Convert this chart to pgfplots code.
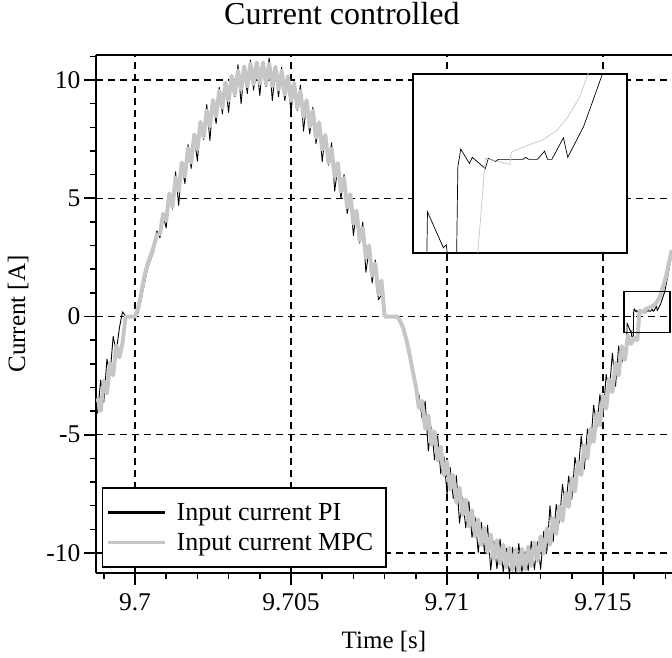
\documentclass[border=0pt]{standalone}
\usepackage{fontspec}
\setmainfont{Liberation Serif}
\usepackage{pgfplots}
\usepackage{pgfplotstable}
\pgfplotsset{compat=1.18}
\definecolor{mpcgray}{RGB}{198,198,198}

% time in ms relative to 9.7 s
\pgfplotstableread{
x y
-1.2 -4.10
-1.1 -2.69
-1.0 -3.62
-0.9 -1.80
-0.8 -2.47
-0.7 -0.84
-0.6 -1.50
-0.5 -0.48
-0.4 0.2
-0.3 0
-0.2 0
-0.1 0
0.0 0
0.1 0.15
0.2 0.7
0.3 1.4
0.4 2.0
0.5 2.4
0.6 2.75
0.7 3.62
0.8 3.33
0.9 4.29
1.0 3.74
1.1 5.25
1.2 4.54
1.3 6.12
1.4 4.70
1.5 6.36
1.6 5.62
1.7 7.27
1.8 6.26
1.9 7.60
2.0 6.57
2.1 8.28
2.2 7.48
2.3 8.96
2.4 7.44
2.5 9.00
2.6 8.16
2.7 9.69
2.8 8.57
2.9 9.78
3.0 8.63
3.1 10.22
3.2 9.29
3.3 10.65
3.4 8.99
3.5 10.42
3.6 9.43
3.7 10.84
3.8 9.57
3.9 10.64
4.0 9.35
4.1 10.79
4.2 9.72
4.3 10.93
4.4 9.13
4.5 10.41
4.6 9.29
4.7 10.54
4.8 9.13
4.9 10.06
5.0 8.62
5.1 9.92
5.2 8.71
5.3 9.78
5.4 7.84
5.5 8.99
5.6 7.72
5.7 8.85
5.8 7.31
5.9 8.11
6.0 6.55
6.1 7.73
6.2 6.40
6.3 7.35
6.4 5.30
6.5 6.34
6.6 4.98
6.7 6.00
6.8 4.36
6.9 5.07
7.0 3.42
7.1 4.52
7.2 3.11
7.3 3.99
7.4 1.87
7.5 2.85
7.6 1.42
7.7 2.39
7.8 0.71
7.9 0.9
8.0 0
8.1 0.05
8.2 0
8.3 0
8.4 0
8.5 -0.15
8.6 -0.45
8.7 -0.95
8.8 -1.55
8.9 -2.1
9.0 -3.2
9.1 -3.3
9.2 -4.3
9.3 -3.58
9.4 -5.68
9.5 -4.67
9.6 -6.06
9.7 -5.04
9.8 -6.66
9.9 -5.92
10.0 -7.52
10.1 -6.37
10.2 -7.70
10.3 -6.73
10.4 -8.74
10.5 -7.65
10.6 -8.94
10.7 -7.82
10.8 -9.34
10.9 -8.49
11.0 -9.98
11.1 -8.71
11.2 -9.93
11.3 -8.83
11.4 -10.72
11.5 -9.50
11.6 -10.66
11.7 -9.41
11.8 -10.80
11.9 -9.81
12.0 -10.9
12.1 -9.76
12.2 -10.84
12.3 -9.60
12.4 -10.8
12.5 -9.94
12.6 -10.75
12.7 -9.50
12.8 -10.70
12.9 -9.53
13.0 -10.69
13.1 -9.08
13.2 -9.95
13.3 -8.00
13.4 -9.53
13.5 -7.94
13.6 -8.73
13.7 -7.10
13.8 -8.10
13.9 -6.75
14.0 -7.73
14.1 -5.95
14.2 -6.65
14.3 -5.05
14.4 -6.45
14.5 -4.75
14.6 -5.45
14.7 -3.75
14.8 -4.70
14.9 -3.30
15.0 -4.25
15.1 -2.45
15.2 -3.15
15.3 -1.55
15.4 -2.95
15.5 -1.25
15.6 -1.95
15.76 -1.2
15.77 -0.28
15.88 -0.63
15.90 -0.60
15.92 -0.85
15.97 -0.85
15.98 0.16
16.00 0.33
16.06 0.19
16.08 0.25
16.17 0.14
16.19 0.24
16.24 0.21
16.26 0.23
16.43 0.23
16.45 0.25
16.47 0.23
16.53 0.23
16.58 0.31
16.60 0.23
16.63 0.23
16.71 0.44
16.74 0.25
16.85 0.55
16.98 1.06
17.1 1.9
17.2 2.6
}\pidata

\pgfplotstableread{
x y
-1.2 -3.45
-1.1 -3.99
-1.0 -2.72
-0.9 -3.25
-0.8 -1.97
-0.7 -2.49
-0.6 -1.21
-0.5 -1.73
-0.4 -1.10
-0.3 0
-0.2 0
-0.1 0
0.0 0
0.1 0.35
0.2 1.0
0.3 1.7
0.4 2.2
0.5 2.57
0.6 2.95
0.7 3.47
0.8 3.48
0.9 4.34
1.0 4.05
1.1 5.20
1.2 4.64
1.3 5.87
1.4 5.30
1.5 6.51
1.6 5.92
1.7 7.12
1.8 6.51
1.9 7.70
2.0 7.07
2.1 8.23
2.2 7.58
2.3 8.71
2.4 8.04
2.5 9.15
2.6 8.46
2.7 9.54
2.8 8.82
2.9 9.88
3.0 9.13
3.1 10.17
3.2 9.39
3.3 10.40
3.4 9.59
3.5 10.57
3.6 9.73
3.7 10.69
3.8 9.82
3.9 10.74
4.0 9.85
4.1 10.74
4.2 9.82
4.3 10.68
4.4 9.73
4.5 10.56
4.6 9.59
4.7 10.39
4.8 9.38
4.9 10.16
5.0 9.12
5.1 9.87
5.2 8.81
5.3 9.53
5.4 8.44
5.5 9.14
5.6 8.02
5.7 8.70
5.8 7.56
5.9 8.21
6.0 7.05
6.1 7.68
6.2 6.50
6.3 7.10
6.4 5.90
6.5 6.49
6.6 5.28
6.7 5.85
6.8 4.61
6.9 5.17
7.0 3.92
7.1 4.47
7.2 3.21
7.3 3.74
7.4 2.47
7.5 3.00
7.6 1.72
7.7 2.24
7.8 0.96
7.9 1.52
8.0 0
8.1 0
8.2 0
8.3 0
8.4 0
8.5 -0.2
8.6 -0.5
8.7 -1.0
8.8 -1.6
8.9 -2.3
9.0 -2.94
9.1 -3.86
9.2 -3.57
9.3 -4.73
9.4 -4.18
9.5 -5.42
9.6 -4.86
9.7 -6.09
9.8 -5.51
9.9 -6.72
10.0 -6.12
10.1 -7.32
10.2 -6.70
10.3 -7.88
10.4 -7.24
10.5 -8.40
10.6 -7.74
10.7 -8.87
10.8 -8.19
10.9 -9.29
11.0 -8.58
11.1 -9.66
11.2 -8.93
11.3 -9.98
11.4 -9.22
11.5 -10.25
11.6 -9.46
11.7 -10.46
11.8 -9.65
11.9 -10.61
12.0 -9.77
12.1 -10.71
12.2 -9.84
12.3 -10.75
12.4 -9.83
12.5 -10.69
12.6 -9.73
12.7 -10.55
12.8 -9.55
12.9 -10.33
13.0 -9.29
13.1 -10.03
13.2 -8.95
13.3 -9.65
13.4 -8.53
13.5 -9.19
13.6 -8.03
13.7 -8.65
13.8 -7.45
13.9 -8.05
14.0 -6.83
14.1 -7.40
14.2 -6.15
14.3 -6.70
14.4 -5.45
14.5 -6.00
14.6 -4.75
14.7 -5.30
14.8 -4.05
14.9 -4.60
15.0 -3.35
15.1 -3.90
15.2 -2.65
15.3 -3.20
15.4 -1.95
15.5 -2.50
15.6 -1.25
15.7 -1.83
15.8 -0.80
15.9 -1.16
16.0 -0.9
16.1 -1.0
16.17 0.24
16.34 0.18
16.35 0.30
16.45 0.36
16.57 0.42
16.67 0.52
16.74 0.64
16.82 0.83
16.88 1.06
17.0 1.6
17.1 2.2
17.2 2.8
}\mpcdata

\begin{document}
\begin{tikzpicture}
\begin{axis}[
  name=main,
  scale only axis, width=576pt, height=518pt,
  xmin=-1.25, xmax=17.21, ymin=-10.845, ymax=11.057,
  axis x line*=bottom, axis y line*=left,
  axis line style={-, line width=1.5pt},
  xtick={0,5,10,15}, xticklabels={9.7,9.705,9.71,9.715},
  minor xtick={-1,1,2,3,4,6,7,8,9,11,12,13,14,16,17},
  ytick={-10,-5,0,5,10}, yticklabels={-10,-5,0,5,10},
  minor ytick={-9,-8,-7,-6,-4,-3,-2,-1,1,2,3,4,6,7,8,9,11},
  tick align=outside, major tick length=12pt, minor tick length=6pt,
  tick style={line width=1.5pt, black},
  grid=major,
  major grid style={black, line width=1.2pt, dash pattern=on 7pt off 5pt},
  ticklabel style={font=\fontsize{25.5}{30}\selectfont},
  xticklabel style={yshift=-5pt},
  title={Current controlled},
  title style={at={(axis description cs:0.427,1.0676)}, anchor=center, inner sep=0pt, font=\fontsize{32}{38}\selectfont},
  xlabel={Time [s]},
  xlabel style={at={(axis description cs:0.5,-0.1326)}, anchor=center, inner sep=0pt, font=\fontsize{25}{30}\selectfont},
  ylabel={Current [A]},
  ylabel style={at={(axis description cs:-0.1354,0.5)}, anchor=center, inner sep=0pt, font=\fontsize{25}{30}\selectfont},
  legend style={at={(0.0104,0.0097)}, anchor=south west, draw=black, line width=1.5pt, fill=white,
    font=\fontsize{26}{30}\selectfont, inner xsep=4pt, inner ysep=13pt, row sep=8pt,
    cells={anchor=west},
    /tikz/every odd column/.append style={column sep=8pt}},
  legend image code/.code={\draw[#1, line width=3pt] (0pt,0pt) -- (57pt,0pt);},
]
\addplot[black, line width=0.9pt, line join=round] table {\pidata};
\addlegendentry{Input current PI}
\addplot[mpcgray, line width=4pt, line join=round] table {\mpcdata};
\addlegendentry{Input current MPC\rule{7pt}{0pt}}
\draw[black, line width=1.5pt] (rel axis cs:0,1) -- (rel axis cs:1,1);
\draw[black, line width=1.5pt] (15.67,-0.68) rectangle (17.15,1.06);
\end{axis}
\begin{axis}[
  at={(main.north west)}, anchor=north west, xshift=317pt, yshift=-19pt,
  scale only axis, width=214pt, height=179pt,
  xmin=15.67, xmax=17.15, ymin=-0.68, ymax=1.06,
  ticks=none, axis line style={line width=1.5pt},
  axis background/.style={fill=white},
]
\addplot[black, line width=0.7pt] table {\pidata};
\addplot[mpcgray, line width=0.7pt] table {\mpcdata};
\end{axis}
\pgfresetboundingbox
\useasboundingbox ([xshift=-96pt,yshift=-85pt]main.south west) rectangle ([yshift=55pt]main.north east);
\end{tikzpicture}
\end{document}
